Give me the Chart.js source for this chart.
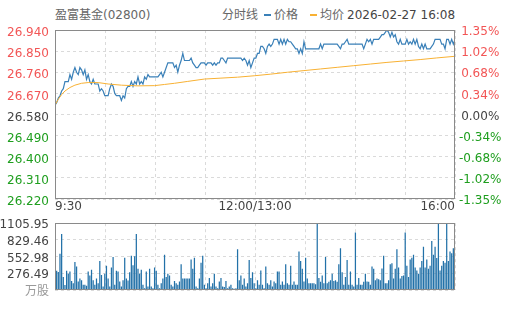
<!DOCTYPE html>
<html>
<head>
<meta charset="utf-8">
<script src="https://cdn.jsdelivr.net/npm/chart.js@4/dist/chart.umd.min.js"></script>
<style>
body{margin:0;background:#fff;font-family:"DejaVu Sans","Noto Sans CJK SC",sans-serif;font-size:12px;}
#wrap{position:relative;width:505px;height:310px;overflow:hidden;}
.txt{position:absolute;top:8px;line-height:14px;white-space:nowrap;}
.dash{position:absolute;top:14px;width:7px;height:2px;}
canvas{position:absolute;left:0;}
</style>
</head>
<body>
<div id="wrap">
  <div class="txt" style="left:55px;color:#666">盈富基金(02800)</div>
  <div class="txt" style="left:222px;color:#666">分时线</div>
  <div class="dash" style="left:264px;background:#3a80b8"></div>
  <div class="txt" style="left:274px;color:#666">价格</div>
  <div class="dash" style="left:310px;background:#f8b133"></div>
  <div class="txt" style="left:320px;color:#666">均价</div>
  <div class="txt" style="left:347px;color:#444">2026-02-27 16:08</div>
  <canvas id="priceChart" width="505" height="215" style="top:0"></canvas>
  <canvas id="volChart" width="505" height="100" style="top:210px"></canvas>
</div>
<script>
// previous close, tick labels
var PREV_CLOSE = 26.58;
var priceTicks = [26.220, 26.310, 26.400, 26.490, 26.580, 26.670, 26.760, 26.850, 26.940];
var volTicks = [0, 276.49, 552.98, 829.46, 1105.95];
var timeLabels = ['9:30', '12:00/13:00', '16:00'];

// minute prices
var prices = [
26.62,26.63,26.65,26.66,26.68,26.69,26.72,26.72,26.72,26.75,
26.73,26.76,26.78,26.76,26.75,26.78,26.77,26.75,26.77,26.73,
26.75,26.72,26.71,26.73,26.71,26.71,26.71,26.68,26.69,26.68,
26.66,26.66,26.66,26.69,26.71,26.70,26.67,26.66,26.66,26.66,
26.64,26.66,26.65,26.69,26.70,26.70,26.72,26.70,26.72,26.71,
26.74,26.71,26.72,26.71,26.74,26.73,26.75,26.74,26.74,26.74,
26.74,26.74,26.74,26.75,26.76,26.74,26.76,26.78,26.80,26.80,
26.80,26.80,26.78,26.79,26.76,26.79,26.81,26.84,26.81,26.81,
26.81,26.81,26.82,26.80,26.79,26.78,26.78,26.79,26.80,26.80,
26.80,26.79,26.80,26.80,26.80,26.79,26.80,26.79,26.80,26.80,
26.82,26.82,26.81,26.80,26.82,26.82,26.82,26.82,26.82,26.82,
26.82,26.82,26.82,26.81,26.82,26.81,26.79,26.81,26.78,26.80,
26.82,26.82,26.84,26.84,26.87,26.87,26.86,26.84,26.87,26.88,
26.87,26.88,26.90,26.90,26.90,26.88,26.90,26.88,26.90,26.88,
26.90,26.89,26.89,26.88,26.87,26.86,26.86,26.84,26.86,26.84,
26.89,26.86,26.86,26.86,26.86,26.86,26.86,26.86,26.86,26.86,
26.88,26.86,26.88,26.88,26.88,26.88,26.88,26.88,26.88,26.88,
26.88,26.87,26.86,26.88,26.88,26.89,26.90,26.88,26.88,26.88,
26.88,26.88,26.88,26.88,26.88,26.88,26.86,26.88,26.90,26.89,
26.90,26.88,26.90,26.90,26.90,26.90,26.91,26.92,26.92,26.93,
26.94,26.93,26.91,26.93,26.91,26.92,26.89,26.88,26.90,26.88,
26.88,26.88,26.90,26.88,26.89,26.88,26.90,26.88,26.90,26.87,
26.86,26.88,26.86,26.88,26.86,26.86,26.86,26.87,26.88,26.90,
26.90,26.90,26.90,26.88,26.88,26.86,26.90,26.90,26.88,26.90,
26.88,26.90
];

// average price, sampled at a few minutes
var avgIdx = [0,2,4,6,9,12,16,20,26,32,40,50,60,66,72,80,90,100,110,120,130,140,150,160,170,180,190,200,210,220,230,241];
var avgVals = [26.62,26.645,26.665,26.68,26.695,26.705,26.713,26.716,26.716,26.71,26.705,26.702,26.703,26.708,26.713,26.721,
  26.731,26.735,26.739,26.745,26.752,26.760,26.767,26.774,26.781,26.788,26.795,26.802,26.808,26.814,26.821,26.828];

// minute volume
var volumes = [
453,320,300,600,927,216,84,320,270,305,
150,110,463,390,140,190,160,85,85,70,
305,240,337,160,85,190,110,480,250,60,
270,400,190,60,374,548,85,320,305,140,
60,160,532,190,158,295,569,410,560,927,
350,270,337,85,30,305,60,350,60,30,
374,320,85,30,110,190,585,216,270,240,
85,60,150,110,85,140,427,190,190,190,
190,190,505,350,532,60,30,190,453,569,
85,30,110,200,60,110,270,60,30,140,
200,60,50,150,30,60,85,30,20,30,
674,160,240,85,190,60,110,495,200,295,
110,30,160,85,321,85,30,390,110,85,
160,60,140,110,305,305,85,140,85,427,
110,85,400,85,140,85,85,637,480,350,
140,532,190,110,110,110,110,95,1106,200,
137,240,110,548,110,137,160,270,150,160,
137,427,690,295,85,216,495,85,305,85,
60,953,85,200,85,85,137,270,140,137,
85,390,350,160,190,180,160,358,569,110,
110,160,427,442,190,350,674,374,190,230,
240,953,400,216,505,532,585,374,321,270,
374,480,716,374,505,350,400,811,585,716,
530,1106,321,400,480,450,1106,480,637,610,
690,190
];

var RED = '#f25555', GREEN = '#1e9e1e', GRAY = '#444';
var GRID = '#dadada';
var FONT = {family: '"DejaVu Sans","Noto Sans CJK SC",sans-serif', size: 12};
var LAST = prices.length - 1;

function xy(xs, ys) {
  var out = [];
  for (var i = 0; i < ys.length; i++) out.push({x: xs ? xs[i] : i, y: ys[i]});
  return out;
}

function tickColor(v) {
  if (v > PREV_CLOSE + 1e-6) return RED;
  if (v < PREV_CLOSE - 1e-6) return GREEN;
  return GRAY;
}

// frame round the plot area
var frame = {
  id: 'frame',
  afterDraw: function(chart) {
    var a = chart.chartArea, ctx = chart.ctx;
    ctx.save();
    ctx.strokeStyle = '#8a8a8a';
    ctx.lineWidth = 1;
    ctx.strokeRect(Math.round(a.left) + 0.5, Math.round(a.top) + 0.5,
      Math.round(a.right - a.left) - 1, Math.round(a.bottom - a.top) - 1);
    ctx.restore();
  }
};

function timeAxis(showLabels, h) {
  return {
    type: 'linear', min: 0, max: LAST, offset: false,
    afterBuildTicks: function(s) {
      var t = [];
      for (var k = 0; k <= 8; k++) t.push({value: k * LAST / 8});
      s.ticks = t;
    },
    afterFit: function(s) { s.height = h; },
    grid: {color: GRID, drawTicks: false, offset: false},
    border: {display: false, dash: [3, 3]},
    ticks: {
      display: showLabels, autoSkip: false, maxRotation: 0, align: 'inner',
      padding: 1, color: GRAY, font: FONT,
      callback: function(v, i) { return i % 4 === 0 ? timeLabels[i / 4] : ''; }
    }
  };
}

new Chart(document.getElementById('priceChart'), {
  type: 'line',
  data: {
    datasets: [
      {data: xy(null, prices), borderColor: '#3a80b8', borderWidth: 1.2, pointRadius: 0, tension: 0, order: 1, yAxisID: 'y'},
      {data: xy(avgIdx, avgVals), borderColor: '#f8b133', borderWidth: 1, pointRadius: 0, tension: 0, order: 0, yAxisID: 'y'}
    ]
  },
  options: {
    responsive: false, animation: false,
    layout: {padding: {top: 30, left: 0, right: 0, bottom: 0}},
    plugins: {legend: {display: false}, tooltip: {enabled: false}},
    scales: {
      x: timeAxis(true, 16),
      y: {
        position: 'left', min: 26.22, max: 26.94,
        afterBuildTicks: function(s) { s.ticks = priceTicks.map(function(v) { return {value: v}; }); },
        afterFit: function(s) { s.width = 55; },
        grid: {color: GRID, drawTicks: false},
        border: {display: false, dash: [3, 3]},
        ticks: {
          font: FONT, padding: 6, labelOffset: 3, autoSkip: false,
          color: function(c) { return tickColor(c.tick.value); },
          callback: function(v) { return v.toFixed(3); }
        }
      },
      y2: {
        position: 'right', min: 26.22, max: 26.94,
        afterBuildTicks: function(s) { s.ticks = priceTicks.map(function(v) { return {value: v}; }); },
        afterFit: function(s) { s.width = 50; },
        grid: {display: false, drawTicks: false},
        border: {display: false},
        ticks: {
          font: FONT, padding: 4, labelOffset: 2, crossAlign: 'center', autoSkip: false,
          color: function(c) { return tickColor(c.tick.value); },
          callback: function(v) { return ((v - PREV_CLOSE) / PREV_CLOSE * 100).toFixed(2) + '%'; }
        }
      }
    }
  },
  plugins: [frame]
});

new Chart(document.getElementById('volChart'), {
  type: 'bar',
  data: {
    datasets: [{data: xy(null, volumes), backgroundColor: '#2271a8', barPercentage: 1, categoryPercentage: 0.75}]
  },
  options: {
    responsive: false, animation: false,
    layout: {padding: {top: 10, left: 0, right: 50, bottom: 0}},
    plugins: {legend: {display: false}, tooltip: {enabled: false}},
    scales: {
      x: timeAxis(false, 20),
      y: {
        min: 0, max: 1105.95,
        afterBuildTicks: function(s) { s.ticks = volTicks.map(function(v) { return {value: v}; }); },
        afterFit: function(s) { s.width = 55; },
        grid: {color: GRID, drawTicks: false},
        border: {display: false, dash: [3, 3]},
        ticks: {
          font: FONT, padding: 6, labelOffset: 2, autoSkip: false,
          color: function(c) { return c.tick.value === 0 ? '#999' : GRAY; },
          callback: function(v) { return v === 0 ? '万股' : v.toFixed(2); }
        }
      }
    }
  },
  plugins: [frame]
});
</script>
</body>
</html>
